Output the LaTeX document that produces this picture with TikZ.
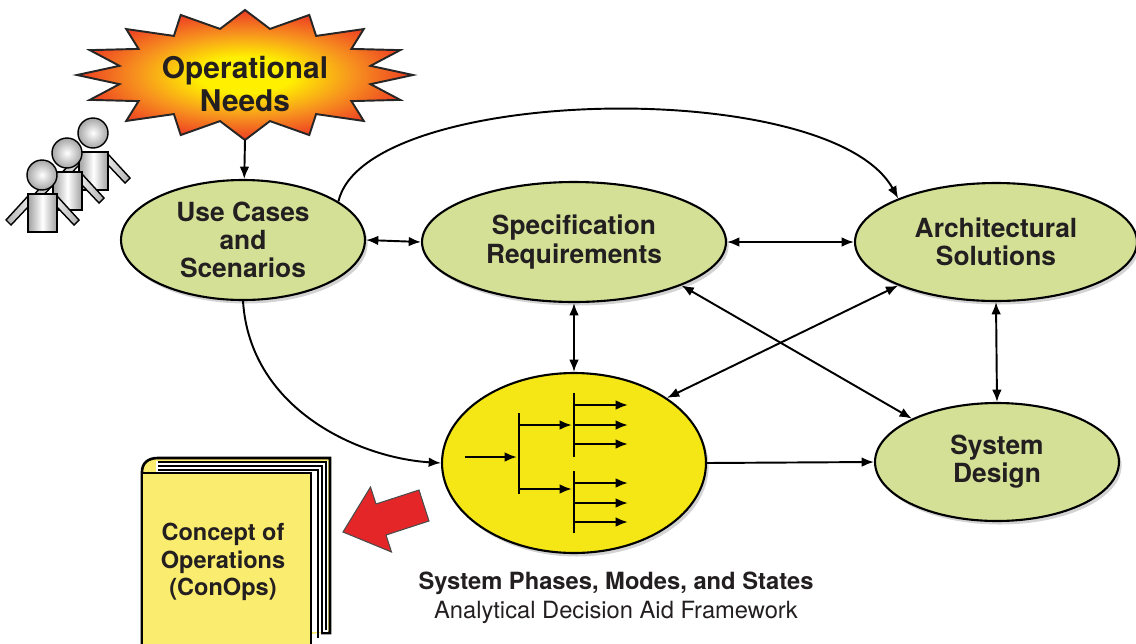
\documentclass[tikz,border=0pt]{standalone}
\usepackage{fontspec}
\setmainfont{TeX Gyre Heros}
\usepackage{tikz}
\usetikzlibrary{shapes, arrows, arrows.meta, shadows}
\definecolor{nodegreen}{RGB}{211,224,150}
\definecolor{phaseyellow}{RGB}{245,231,22}
\definecolor{bookyellow}{RGB}{250,236,110}
\definecolor{arrowred}{RGB}{228,38,40}
\definecolor{inktext}{RGB}{35,31,32}
\definecolor{burstyellow}{RGB}{255,240,0}
\definecolor{burstorange}{RGB}{247,148,30}
\definecolor{burstred}{RGB}{236,50,36}
\pgfdeclareradialshading{burst}{\pgfpoint{0cm}{0cm}}{color(0bp)=(burstyellow); color(7bp)=(burstyellow); color(16bp)=(burstorange); color(26bp)=(burstred); color(50bp)=(burstred)}
\tikzstyle{link} = [draw, line width=1.1pt]
\tikzset{person/.pic={
	\shadedraw[line width=0.8pt, left color=gray!60, right color=gray!20] (-14,21) -- (-36,45) -- (-31,50) -- (-14,32) -- cycle;
	\shadedraw[line width=0.8pt, left color=gray!20, right color=gray!60] (15,21) -- (37,45) -- (32,50) -- (15,32) -- cycle;
	\shadedraw[line width=0.8pt, left color=gray!75, right color=gray!75, middle color=white] (-14,19) rectangle (15,57);
	\shadedraw[line width=0.8pt, inner color=white, outer color=gray!70] (0,0) circle (15);
}}

\begin{document}
\begin{tikzpicture}[x=0.02cm, y=-0.02cm, >={Latex[length=7pt,width=5.5pt]},
		bubble/.style={ellipse, draw, line width=1.2pt, fill=nodegreen, inner sep=0pt, align=center, text=inktext,
			font=\fontsize{15}{16}\selectfont\bfseries,
			drop shadow={shadow xshift=1.5pt, shadow yshift=-2pt, opacity=0.35}},
		tree/.style={line width=1.3pt}]
	\useasboundingbox (0,0) rectangle (1136,643);
	% Starburst
	\shadedraw[shading=burst, draw=black!85, line width=1.1pt] (413,75)
		\foreach \k in {0,...,15} { -- ({245+128*cos(22.5*\k+11.25)},{75-47*sin(22.5*\k+11.25)})
			-- ({245+168*cos(22.5*(\k+1))},{75-65*sin(22.5*(\k+1))}) } -- cycle;
	\node[align=center, text=inktext, font=\fontsize{17}{18.7}\selectfont\bfseries] (needs) at (245,84) {Operational\\Needs};
	\coordinate (needstip) at (245,140);
	% people
	\pic at (93,133) {person};
	\pic at (67,153) {person};
	\pic at (42,175) {person};
	% ellipses
	\node[bubble, minimum width=4.88cm, minimum height=2.4cm] (usecases) at (243,240) {Use Cases\\and\\Scenarios};
	\node[bubble, minimum width=6.08cm, minimum height=2.4cm] (specreq) at (574,242) {Specification\\Requirements};
	\node[bubble, minimum width=5.64cm, minimum height=2.36cm] (archsol) at (996,242) {Architectural\\Solutions};
	\node[bubble, minimum width=4.88cm, minimum height=2.36cm] (sysdesign) at (997,462) {System\\Design};
	\node[bubble, fill=phaseyellow, minimum width=5.28cm, minimum height=3.6cm] (phases) at (574,463) {};
	% decision tree
	\draw[tree, ->] (465,457) -- (517,457);
	\draw[tree] (519,413) -- (519,494);
	\draw[tree, ->] (519,425) -- (572,425);
	\draw[tree, ->] (519,489) -- (572,489);
	\draw[tree] (574,393) -- (574,457);
	\draw[tree] (574,471) -- (574,533);
	\foreach \y in {405,425,444,483,503,522}
		\draw[tree, ->] (574,\y) -- (628,\y);
	% connectors
	\draw[link, ->] (needstip) -- (usecases);
	\draw[link, <->] (usecases.east) -- (specreq.west);
	\draw[link, <->] (specreq.east) -- (archsol.west);
	\draw[link, <->] (specreq.south) -- (phases.north);
	\draw[link, <->] (archsol.south) -- (sysdesign.north);
	\draw[link, ->] (phases.east) -- (sysdesign.west);
	\draw[link, <->] (specreq.-22) -- (sysdesign.153);
	\draw[link, <->] (archsol.204) -- (phases.35);
	\draw[link, ->] (usecases.22) .. controls (365,85) and (830,75) .. (archsol.156);
	\draw[link, ->] (usecases.south) .. controls (250,410) and (360,458) .. (phases.west);
	% ConOps book
	\filldraw[fill=bookyellow, line width=1.5pt] (142,650) -- (142,472) .. controls (142,463) and (148,458) .. (158,458) -- (330,458) -- (330,633) -- (321,633);
	\fill[white] (156,461) rectangle (328,632);
	\foreach \d in {0,4,8}
		\draw[line width=0.6pt] (158,462+\d) -- (326-\d,462+\d) -- (326-\d,630+\d);
	\filldraw[fill=bookyellow, line width=1.6pt] (142,650) -- (142,473) -- (311,473) -- (311,650);
	\node[align=center, text=inktext, font=\fontsize{13.4}{15.6}\selectfont\bfseries] (conops) at (223,562) {Concept of\\Operations\\(ConOps)};
	% red arrow
	\filldraw[fill=arrowred, draw=black!70, line width=0.6pt] (343,532) -- (370.5,487) -- (376,504) -- (419,490) -- (429,521) -- (386,535) -- (391.5,552) -- cycle;
	% caption
	\node[align=center, text=inktext, font=\fontsize{13.5}{16.4}\selectfont] (phasescap) at (616,598) {\textbf{System Phases, Modes, and States}\\Analytical Decision Aid Framework};
\end{tikzpicture}
\end{document}
